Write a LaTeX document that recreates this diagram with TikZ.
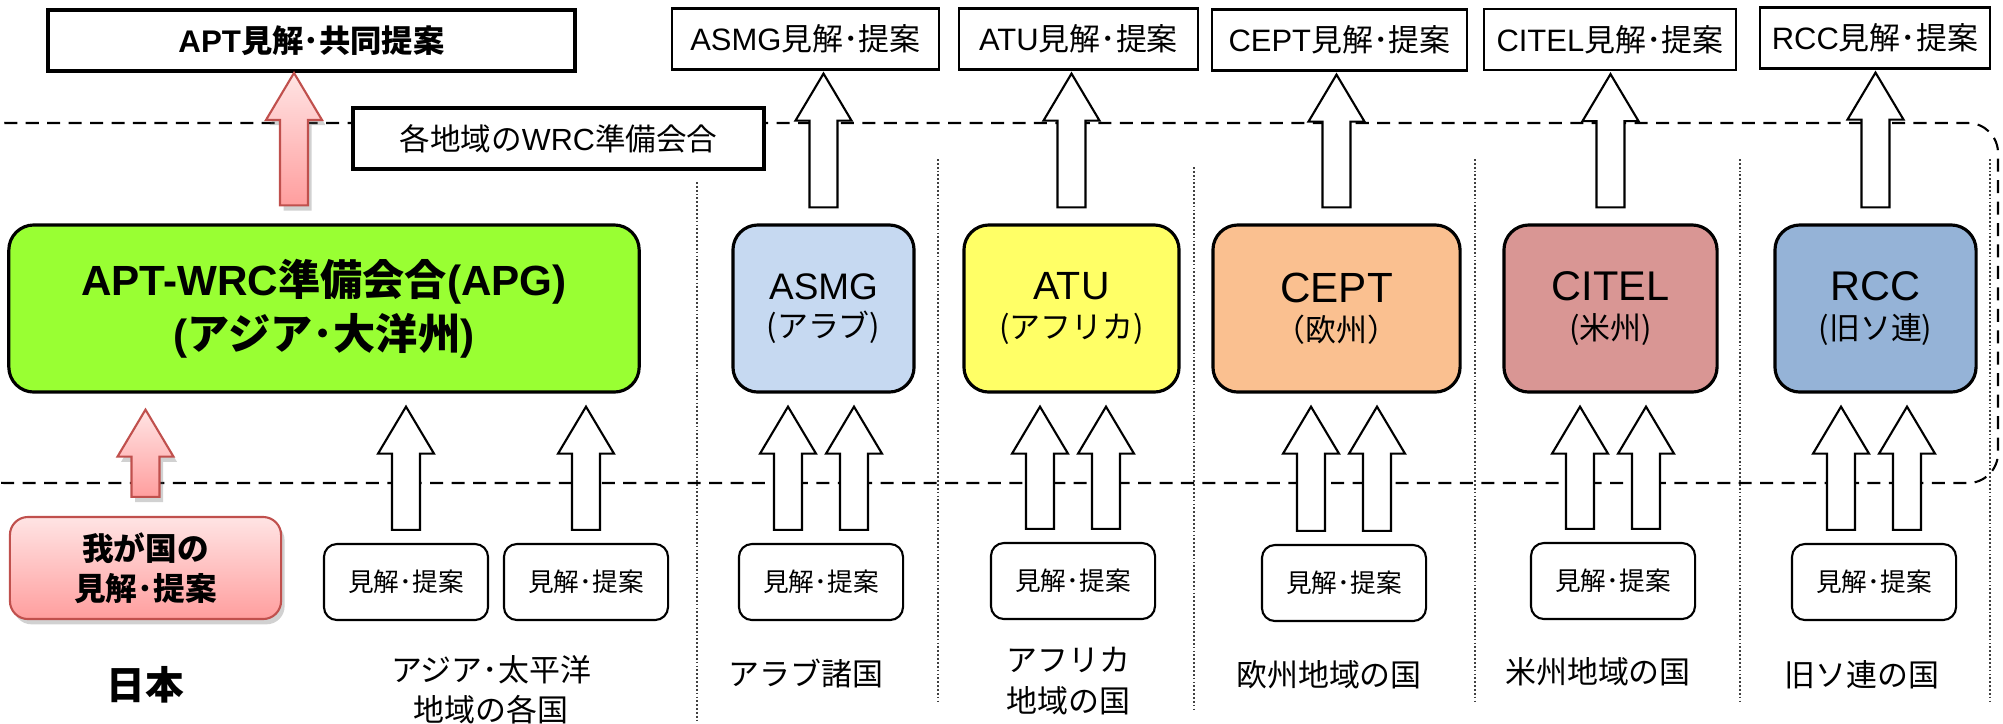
\documentclass[tikz,border=0pt]{standalone}
\usepackage{fontspec}
\setmainfont{Noto Sans CJK JP}
\newfontfamily\lat{Liberation Sans}
\usetikzlibrary{calc,shadows}

\definecolor{apggreen}{HTML}{99FF33}
\definecolor{asmgblue}{HTML}{C6D9F1}
\definecolor{atuyellow}{HTML}{FFFF66}
\definecolor{ceptorange}{HTML}{FAC090}
\definecolor{citelred}{HTML}{D99694}
\definecolor{rccblue}{HTML}{95B3D7}
\definecolor{jpline}{HTML}{C0504D}
\definecolor{jptop}{HTML}{FFE4E4}
\definecolor{jpbottom}{HTML}{FF9E9E}

\tikzset{
  topbox/.style={draw, line width=0.6pt, fill=white, minimum height=0.61cm,
    inner sep=1pt, font=\fontsize{8.8}{10}\selectfont},
  regbox/.style={draw, line width=0.9pt, rounded corners=0.25cm,
    minimum height=1.67cm, align=center},
  viewbox/.style={draw, line width=0.6pt, rounded corners=0.13cm,
    minimum width=1.64cm, minimum height=0.76cm, font=\fontsize{7.3}{8}\selectfont},
  blockarr/.style={draw, line width=0.6pt, fill=white},
  jparr/.style={draw=jpline, line width=0.6pt, top color=jptop, bottom color=jpbottom,
    drop shadow={shadow xshift=1pt, shadow yshift=-1.5pt, opacity=0.3, fill=black!60}},
  areatext/.style={align=center, font=\fontsize{8.8}{11.4}\selectfont},
  divline/.style={line width=0.45pt, black!75, dash pattern=on 0.5pt off 0.6pt},
  wrcarea/.style={line width=0.6pt, dash pattern=on 3.7pt off 2.4pt, rounded corners=0.3cm},
}

% block arrow: [style]{from}{to}{x shift}{gap at foot}{gap at tip}
\newcommand{\blockup}[6][]{%
  \draw[blockarr,#1]
    ($(#2.north)+(#4-14,-#5)$) -- ($(#2.north |- #3.south)+(#4-14,#6+47)$)
    -- ($(#2.north |- #3.south)+(#4-28,#6+47)$) -- ($(#2.north |- #3.south)+(#4,#6)$)
    -- ($(#2.north |- #3.south)+(#4+28,#6+47)$) -- ($(#2.north |- #3.south)+(#4+14,#6+47)$)
    -- ($(#2.north)+(#4+14,-#5)$) -- cycle;}

% region box text: name (Latin) over area (Japanese)
\newcommand{\regtext}[3]{{\lat\fontsize{#1}{13}\selectfont #2}\\[-1pt]{\fontsize{8.8}{10.5}\selectfont #3}}

\begin{document}
\begin{tikzpicture}[x=0.01cm, y=-0.01cm]
\useasboundingbox (0,0) rectangle (2003,723);

\draw[wrcarea] (-25,123) rectangle (1998,483);

\draw[divline] (697,182) -- (697,722);
\draw[divline] (938,159) -- (938,703);
\draw[divline] (1194,167) -- (1194,710);
\draw[divline] (1475,159) -- (1475,703);
\draw[divline] (1740,159) -- (1740,703);
\draw[divline] (1990,159) -- (1990,703);

% top row
\node[topbox, line width=1.1pt, minimum width=5.27cm, font=\fontsize{8.9}{10}\selectfont\bfseries]
  (apt) at (311.5,40.5) {{\lat APT}見解･共同提案};
\node[topbox, line width=1.1pt, minimum width=4.11cm, font=\fontsize{8.7}{10}\selectfont]
  (wrc) at (558.5,138.5) {各地域の{\lat WRC}準備会合};
\node[topbox, minimum width=2.67cm] (asmgview) at (805.5,39) {{\lat ASMG}見解･提案};
\node[topbox, minimum width=2.39cm] (atuview) at (1078.5,39) {{\lat ATU}見解･提案};
\node[topbox, minimum width=2.55cm] (ceptview) at (1339.5,40) {{\lat CEPT}見解･提案};
\node[topbox, minimum width=2.52cm] (citelview) at (1610,39.5) {{\lat CITEL}見解･提案};
\node[topbox, minimum width=2.30cm] (rccview) at (1875,38) {{\lat RCC}見解･提案};

% regional groups
\node[regbox, fill=apggreen, minimum width=6.30cm, font=\fontsize{12}{15.4}\selectfont\bfseries]
  (apg) at (324,308.5) {{\lat APT-WRC}準備会合{\lat (APG)}\\{\lat (}アジア･大洋州{\lat )}};
\node[regbox, fill=asmgblue, minimum width=1.81cm] (asmg) at (823.5,308.5) {\regtext{10.5}{ASMG}{(アラブ)}};
\node[regbox, fill=atuyellow, minimum width=2.15cm] (atu) at (1071.5,308.5) {\regtext{11.2}{ATU}{(アフリカ)}};
\node[regbox, fill=ceptorange, minimum width=2.47cm] (cept) at (1336.5,308.5) {\regtext{12}{CEPT}{（欧州）}};
\node[regbox, fill=citelred, minimum width=2.13cm] (citel) at (1610.5,308.5) {\regtext{11.8}{CITEL}{(米州)}};
\node[regbox, fill=rccblue, minimum width=2.01cm] (rcc) at (1875.5,308.5) {\regtext{11.8}{RCC}{(旧ソ連)}};

% national views
\node[draw=jpline, line width=0.6pt, rounded corners=0.18cm, top color=jptop, bottom color=jpbottom,
  drop shadow={shadow xshift=1pt, shadow yshift=-1.5pt, opacity=0.3, fill=black!60},
  minimum width=2.71cm, minimum height=1.02cm, align=center,
  font=\fontsize{9}{11.4}\selectfont\bfseries] (jp) at (145.5,568) {我が国の\\見解･提案};
\node[viewbox] (apview1) at (406,582) {見解･提案};
\node[viewbox] (apview2) at (586,582) {見解･提案};
\node[viewbox] (arview) at (821,582) {見解･提案};
\node[viewbox] (afview) at (1073,581) {見解･提案};
\node[viewbox] (euview) at (1344,583) {見解･提案};
\node[viewbox] (amview) at (1613,581) {見解･提案};
\node[viewbox] (ruview) at (1874,582) {見解･提案};

% country labels
\node[font=\fontsize{11}{13}\selectfont\bfseries] (japan) at (145,685) {日本};
\node[areatext] (asia) at (491,690) {アジア･太平洋\\地域の各国};
\node[areatext] (arab) at (806,673) {アラブ諸国};
\node[areatext, align=left, anchor=west] (africa) at (994,681) {アフリカ\\地域の国};
\node[areatext] (europe) at (1329,675) {欧州地域の国};
\node[areatext] (america) at (1598,672) {米州地域の国};
\node[areatext] (ussr) at (1862,675) {旧ソ連の国};

% arrows
\blockup[jparr]{apg}{apt}{-30}{18}{0}
\blockup[jparr]{jp}{apg}{0}{19}{16}
\blockup{apview1}{apg}{0}{13}{13}
\blockup{apview2}{apg}{0}{13}{13}
\blockup{asmg}{asmgview}{0}{16}{3}
\blockup{atu}{atuview}{0}{16}{3}
\blockup{cept}{ceptview}{0}{16}{3}
\blockup{citel}{citelview}{0}{16}{3}
\blockup{rcc}{rccview}{0}{16}{3}
\blockup{arview}{asmg}{-33}{13}{13}
\blockup{arview}{asmg}{33}{13}{13}
\blockup{afview}{atu}{-33}{13}{13}
\blockup{afview}{atu}{33}{13}{13}
\blockup{euview}{cept}{-33}{13}{13}
\blockup{euview}{cept}{33}{13}{13}
\blockup{amview}{citel}{-33}{13}{13}
\blockup{amview}{citel}{33}{13}{13}
\blockup{ruview}{rcc}{-33}{13}{13}
\blockup{ruview}{rcc}{33}{13}{13}
\end{tikzpicture}
\end{document}
